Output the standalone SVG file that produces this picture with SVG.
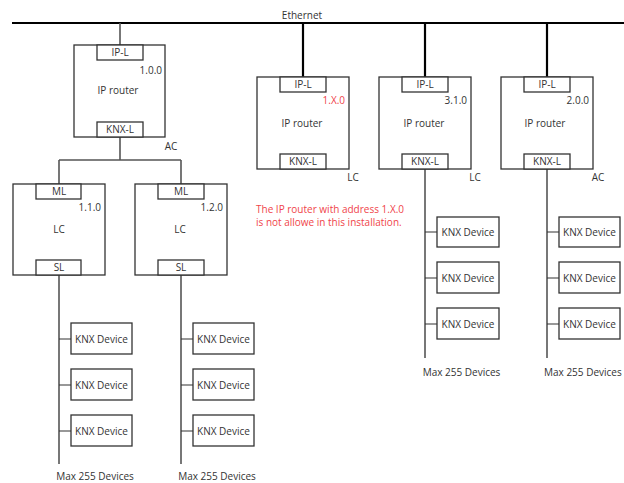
<svg xmlns="http://www.w3.org/2000/svg" width="624" height="483" viewBox="0 0 624 483">
<style>
text{font-family:"Open Sans","Noto Sans","Liberation Sans",sans-serif;font-size:10px;fill:#333}
.m{text-anchor:middle}
.e{text-anchor:end}
.red{fill:#f0444a}
.box{fill:#fff;stroke:#333;stroke-width:1.3}
.bus{stroke:#000;stroke-width:2.2;fill:none}
.ln{stroke:#555;stroke-width:1.6;fill:none}
.stub{stroke:#333;stroke-width:1.2;fill:none}
</style>
<rect width="624" height="483" fill="#fff"/>
<g id="connectors">
<line class="bus" x1="12" y1="23" x2="624" y2="23"/>
<line class="ln" x1="120" y1="23" x2="120" y2="45"/>
<line class="bus" x1="303" y1="23" x2="303" y2="77"/>
<line class="bus" x1="425" y1="23" x2="425" y2="77"/>
<line class="bus" x1="547" y1="23" x2="547" y2="77"/>
<path class="ln" d="M120 137V160M59 160H181M59 160V184M181 160V184"/>
<line class="ln" x1="59" y1="275" x2="59" y2="464"/>
<line class="ln" x1="181" y1="275" x2="181" y2="464"/>
<line class="ln" x1="425" y1="169" x2="425" y2="358"/>
<line class="ln" x1="547" y1="169" x2="547" y2="358"/>
<path class="stub" d="M59 339H71M59 385H71M59 431H71M181 339H193M181 385H193M181 431H193M425 232H437M425 278H437M425 324H437M547 232H559M547 278H559M547 324H559"/>
</g>
<text id="ethernet" class="m" x="302" y="19">Ethernet</text>
<g id="router1">
<rect class="box" x="74" y="45" width="91" height="92"/>
<rect class="box" x="97" y="45" width="46" height="15"/>
<rect class="box" x="97" y="122" width="46" height="15"/>
<text class="m" x="120" y="56">IP-L</text>
<text class="e" x="162" y="74">1.0.0</text>
<text class="m" x="118" y="94">IP router</text>
<text class="m" x="120" y="133">KNX-L</text>
<text class="m" x="171" y="150">AC</text>
</g>
<g id="router2">
<rect class="box" x="257" y="77" width="92" height="92"/>
<rect class="box" x="280" y="77" width="46" height="15"/>
<rect class="box" x="280" y="154" width="46" height="15"/>
<text class="m" x="303" y="88">IP-L</text>
<text class="e red" x="345" y="104">1.X.0</text>
<text class="m" x="302" y="127">IP router</text>
<text class="m" x="303" y="165">KNX-L</text>
<text class="m" x="353" y="181">LC</text>
</g>
<g id="router3">
<rect class="box" x="379" y="77" width="92" height="92"/>
<rect class="box" x="402" y="77" width="46" height="15"/>
<rect class="box" x="402" y="154" width="46" height="15"/>
<text class="m" x="425" y="88">IP-L</text>
<text class="e" x="467" y="104">3.1.0</text>
<text class="m" x="424" y="127">IP router</text>
<text class="m" x="425" y="165">KNX-L</text>
<text class="m" x="475" y="181">LC</text>
</g>
<g id="router4">
<rect class="box" x="501" y="77" width="92" height="92"/>
<rect class="box" x="524" y="77" width="46" height="15"/>
<rect class="box" x="524" y="154" width="46" height="15"/>
<text class="m" x="547" y="88">IP-L</text>
<text class="e" x="589" y="104">2.0.0</text>
<text class="m" x="545" y="127">IP router</text>
<text class="m" x="547" y="165">KNX-L</text>
<text class="m" x="598" y="181">AC</text>
</g>
<g id="lc1">
<rect class="box" x="13" y="184" width="92" height="91"/>
<rect class="box" x="36" y="184" width="45" height="15"/>
<rect class="box" x="36" y="260" width="45" height="15"/>
<text class="m" x="59" y="195">ML</text>
<text class="e" x="101" y="211">1.1.0</text>
<text class="m" x="59" y="233">LC</text>
<text class="m" x="59" y="271">SL</text>
</g>
<g id="lc2">
<rect class="box" x="135" y="184" width="92" height="91"/>
<rect class="box" x="158" y="184" width="46" height="15"/>
<rect class="box" x="158" y="260" width="46" height="15"/>
<text class="m" x="181" y="195">ML</text>
<text class="e" x="223" y="211">1.2.0</text>
<text class="m" x="180" y="233">LC</text>
<text class="m" x="181" y="271">SL</text>
</g>
<g id="note">
<text class="red" x="256" y="213">The IP router with address 1.X.0</text>
<text class="red" x="256" y="226">is not allowe in this installation.</text>
</g>
<g id="dev-lc1">
<rect class="box" x="71" y="323" width="61" height="31"/><text class="m" x="101.5" y="342.5">KNX Device</text>
<rect class="box" x="71" y="369" width="61" height="31"/><text class="m" x="101.5" y="388.5">KNX Device</text>
<rect class="box" x="71" y="415" width="61" height="31"/><text class="m" x="101.5" y="434.5">KNX Device</text>
<text class="m" x="95" y="480">Max 255 Devices</text>
</g>
<g id="dev-lc2">
<rect class="box" x="193" y="323" width="61" height="31"/><text class="m" x="223.5" y="342.5">KNX Device</text>
<rect class="box" x="193" y="369" width="61" height="31"/><text class="m" x="223.5" y="388.5">KNX Device</text>
<rect class="box" x="193" y="415" width="61" height="31"/><text class="m" x="223.5" y="434.5">KNX Device</text>
<text class="m" x="217" y="480">Max 255 Devices</text>
</g>
<g id="dev-r3">
<rect class="box" x="437" y="217" width="62" height="30"/><text class="m" x="468" y="235.5">KNX Device</text>
<rect class="box" x="437" y="262" width="62" height="31"/><text class="m" x="468" y="281.5">KNX Device</text>
<rect class="box" x="437" y="308" width="62" height="31"/><text class="m" x="468" y="327.5">KNX Device</text>
<text class="m" x="461.5" y="375.5">Max 255 Devices</text>
</g>
<g id="dev-r4">
<rect class="box" x="559" y="217" width="61" height="30"/><text class="m" x="589.5" y="235.5">KNX Device</text>
<rect class="box" x="559" y="262" width="61" height="31"/><text class="m" x="589.5" y="281.5">KNX Device</text>
<rect class="box" x="559" y="308" width="61" height="31"/><text class="m" x="589.5" y="327.5">KNX Device</text>
<text x="544" y="375.5">Max 255 Devices</text>
</g>
</svg>
